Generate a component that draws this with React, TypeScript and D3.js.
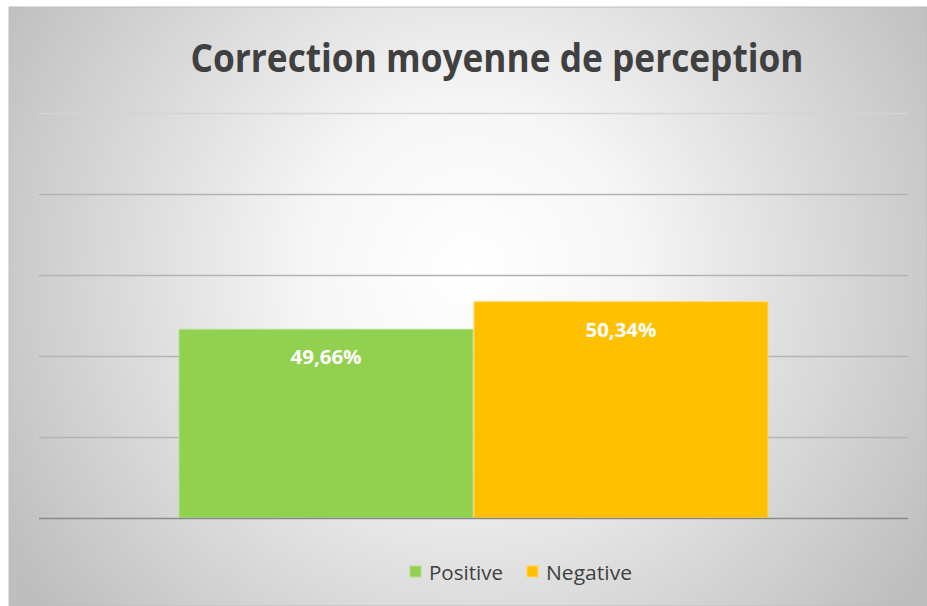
import React, { useRef, useEffect } from 'react';
import * as d3 from 'd3';

const categories = [''];
const seriesNames = ['Positive', 'Negative'];
const seriesValues = [49.66, 50.34];
const seriesColors = ['#92d050', '#ffc000'];
const yTicks = [45, 47, 49, 51, 53, 55];
const valueLabels = ['49,66%', '50,34%'];
const chartTitle = 'Correction moyenne de perception';

export default function App() {
  const svgRef = useRef<SVGSVGElement>(null);

  useEffect(() => {
    const svg = d3.select(svgRef.current);
    svg.selectAll('*').remove();

    const width = 927;
    const height = 606;

    const defs = svg.append('defs');
    const grad = defs.append('radialGradient')
      .attr('id', 'bg')
      .attr('gradientUnits', 'userSpaceOnUse')
      .attr('cx', 470)
      .attr('cy', 270)
      .attr('r', 540);
    grad.append('stop').attr('offset', '0').attr('stop-color', '#ffffff');
    grad.append('stop').attr('offset', '0.3').attr('stop-color', '#f6f6f6');
    grad.append('stop').attr('offset', '1').attr('stop-color', '#bebebe');

    svg.append('rect')
      .attr('x', 0).attr('y', 0)
      .attr('width', width).attr('height', height)
      .attr('fill', '#ffffff');

    svg.append('rect')
      .attr('x', 9).attr('y', 7)
      .attr('width', width - 9).attr('height', height - 7)
      .attr('fill', 'url(#bg)')
      .attr('stroke', '#bdbdbd')
      .attr('stroke-width', 1);

    const left = 39, right = 908;

    const y = d3.scaleLinear().domain([45, 55]).range([518, 113]);

    const x0 = d3.scaleBand()
      .domain(categories)
      .range([left, right])
      .paddingInner(0)
      .paddingOuter(0.2377);

    const x1 = d3.scaleBand()
      .domain(seriesNames)
      .range([0, x0.bandwidth()])
      .paddingInner(0.003);

    // gridlines
    svg.append('g')
      .selectAll('line')
      .data(yTicks.slice(1))
      .enter()
      .append('line')
      .attr('x1', left)
      .attr('x2', right)
      .attr('y1', d => Math.round(y(d)) + 0.5)
      .attr('y2', d => Math.round(y(d)) + 0.5)
      .attr('stroke', (d, i) => i === yTicks.length - 2 ? '#d4d4d4' : '#b3b3b3')
      .attr('stroke-width', 1.3);

    // bars
    const g = svg.append('g')
      .attr('transform', `translate(${x0('')},0)`);

    g.selectAll('rect')
      .data(seriesValues)
      .enter()
      .append('rect')
      .attr('x', (d, i) => x1(seriesNames[i]))
      .attr('y', d => y(d))
      .attr('width', x1.bandwidth())
      .attr('height', d => y(45) - y(d))
      .attr('fill', (d, i) => seriesColors[i])
      .attr('stroke', (d, i) => i === 0 ? '#b5e08f' : '#ffd966')
      .attr('stroke-width', 1);

    g.selectAll('text')
      .data(seriesValues)
      .enter()
      .append('text')
      .text((d, i) => valueLabels[i])
      .attr('x', (d, i) => (x1(seriesNames[i]) as number) + x1.bandwidth() / 2)
      .attr('y', d => y(d) + 35)
      .attr('text-anchor', 'middle')
      .attr('textLength', 71)
      .attr('lengthAdjust', 'spacingAndGlyphs')
      .attr('fill', '#ffffff')
      .style('font-family', '"Open Sans", sans-serif')
      .style('font-weight', 'bold')
      .style('font-size', '20px');

    // baseline
    svg.append('line')
      .attr('x1', left)
      .attr('x2', right)
      .attr('y1', y(45) + 0.5)
      .attr('y2', y(45) + 0.5)
      .attr('stroke', '#8a8a8a')
      .attr('stroke-width', 1.6);

    // title
    svg.append('text')
      .text(chartTitle)
      .attr('x', 497)
      .attr('y', 72)
      .attr('text-anchor', 'middle')
      .attr('textLength', 613)
      .attr('lengthAdjust', 'spacingAndGlyphs')
      .attr('fill', '#404040')
      .style('font-family', '"Open Sans", sans-serif')
      .style('font-weight', 'bold')
      .style('font-size', '39px');

    // legend
    const legendX = [410, 527];
    const legendW = [74, 86];
    const legend = svg.append('g');
    seriesNames.forEach((name, i) => {
      legend.append('rect')
        .attr('x', legendX[i])
        .attr('y', 566)
        .attr('width', 11)
        .attr('height', 11)
        .attr('fill', seriesColors[i])
        .attr('stroke', i === 0 ? '#b5e08f' : '#ffd966')
        .attr('stroke-width', 1);
      legend.append('text')
        .text(name)
        .attr('x', legendX[i] + 19)
        .attr('y', 580)
        .attr('textLength', legendW[i])
        .attr('lengthAdjust', 'spacingAndGlyphs')
        .attr('fill', '#404040')
        .style('font-family', '"Open Sans", sans-serif')
        .style('font-size', '19.5px');
    });
  }, []);

  return (
    <svg
      ref={svgRef}
      width={927}
      height={606}
      style={{ position: 'absolute', left: 0, top: 0 }}
    ></svg>
  );
}
